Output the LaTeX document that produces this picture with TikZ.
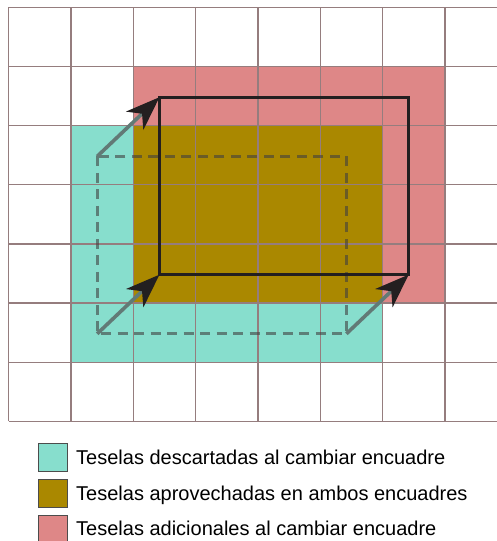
\documentclass[tikz,border=0pt]{standalone}
\usepackage{fontspec}
\setmainfont{Liberation Sans}
\usetikzlibrary{arrows.meta}
\definecolor{descartada}{HTML}{87DECD}
\definecolor{aprovechada}{HTML}{AA8800}
\definecolor{adicional}{HTML}{DE8787}
\definecolor{rejilla}{HTML}{957D7E}
\definecolor{casinegro}{HTML}{231F20}
\definecolor{colagris}{HTML}{627A76}
\begin{document}
\begin{tikzpicture}[x=1pt,y=-1pt,
    lineagrid/.style={draw=rejilla, line width=1.4pt},
    encviejo/.style={draw=black!75, draw opacity=0.6, line width=2.8pt, dash pattern=on 10pt off 6.5pt},
    encnuevo/.style={draw=casinegro, line width=2.8pt},
    flecha/.style={draw=colagris, line width=3.6pt,
      -{Stealth[length=34pt, width=25pt, inset=10pt, color=casinegro]}},
    muestra/.style={draw=black!70, line width=0.9pt, minimum width=29pt, minimum height=28pt, inner sep=0pt},
    leyenda/.style={anchor=base west, inner sep=0pt, font=\fontsize{20}{24}\selectfont}]
    \useasboundingbox (0,0) rectangle (497,541);
    \clip (0,0) rectangle (497,541);
    % Rejilla de teselas
    \begin{scope}[shift={(8.7,7.3)}, x=62.3pt, y=-59.15pt]
      \fill[descartada] (1,2) rectangle (6,6);
      \fill[adicional] (2,1) rectangle (7,5);
      \fill[aprovechada] (2,2) rectangle (6,5);
      \foreach \i in {0,...,7}
        \draw[lineagrid] (\i,0) -- (\i,7);
      \foreach \j in {0,...,7}
        \draw[lineagrid] (0,\j) -- (7.9,\j);
      % Encuadre anterior y nuevo
      \coordinate (viejoNO) at (1.42,2.52);
      \coordinate (viejoSO) at (1.42,5.52);
      \coordinate (viejoSE) at (5.42,5.52);
      \coordinate (nuevoNO) at (2.42,1.52);
      \coordinate (nuevoSO) at (2.42,4.52);
      \coordinate (nuevoSE) at (6.42,4.52);
      \draw[encviejo] (viejoNO) rectangle (viejoSE);
      \draw[encnuevo] (nuevoNO) rectangle (nuevoSE);
      % Desplazamiento
      \draw[flecha] (viejoNO) -- (nuevoNO);
      \draw[flecha] (viejoSO) -- (nuevoSO);
      \draw[flecha] (viejoSE) -- (nuevoSE);
    \end{scope}
    % Leyenda
    \node[muestra, fill=descartada] (mDesc) at (53.2,457.2) {};
    \node[muestra, fill=aprovechada] (mApro) at (53.2,493) {};
    \node[muestra, fill=adicional] (mAdic) at (53.2,529) {};
    \node[leyenda] (tDesc) at (76,464.3) {Teselas descartadas al cambiar encuadre};
    \node[leyenda] (tApro) at (76,500) {Teselas aprovechadas en ambos encuadres};
    \node[leyenda] (tAdic) at (76,535.8) {Teselas adicionales al cambiar encuadre};
\end{tikzpicture}
\end{document}
